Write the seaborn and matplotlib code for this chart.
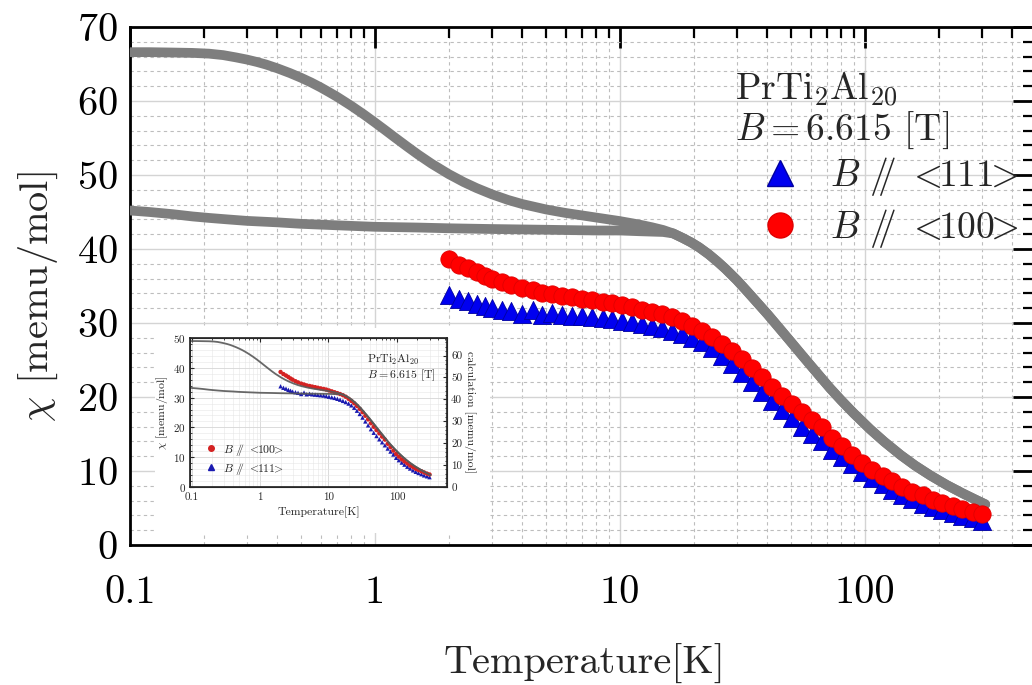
import numpy as np
import pandas as pd
import matplotlib
matplotlib.use("Agg")
import matplotlib.pyplot as plt
import seaborn as sns
from matplotlib.ticker import FixedLocator, FuncFormatter, LogLocator, MultipleLocator, NullFormatter
from matplotlib.lines import Line2D

# ---------------- data ----------------
T_data = [2.0, 2.2, 2.4, 2.6, 2.8, 3.0, 3.3, 3.6, 4.0, 4.4, 4.8, 5.3, 5.8, 6.4, 7.0,
          7.7, 8.5, 9.3, 10.2, 11.2, 12.3, 13.5, 14.8, 16.3, 17.9, 19.7, 21.6, 23.8, 26.1, 28.7,
          31.5, 34.6, 38.0, 41.8, 45.9, 50.4, 55.4, 60.9, 66.9, 73.5, 80.8, 88.8, 97.6, 107, 118,
          129, 142, 156, 172, 189, 207, 228, 250, 275, 300]
chi_100 = [38.6, 37.9, 37.4, 36.9, 36.4, 36.0, 35.5, 35.1, 34.7, 34.4, 34.1, 33.9, 33.7, 33.5, 33.3,
           33.1, 32.9, 32.7, 32.4, 32.1, 31.8, 31.5, 31.2, 30.8, 30.3, 29.6, 28.9, 28.1, 27.2, 26.2,
           25.1, 23.9, 22.7, 21.4, 20.2, 19.1, 18.0, 16.9, 15.9, 14.5, 13.4, 12.2, 11.1, 10.2, 9.3,
           8.6, 7.9, 7.2, 6.7, 6.1, 5.7, 5.3, 4.9, 4.5, 4.2]
chi_111 = [33.8, 33.3, 33.0, 32.6, 32.3, 32.0, 31.8, 31.6, 31.2, 31.7, 31.1, 31.3, 31.1, 31.0, 30.9,
           30.8, 30.7, 30.5, 30.3, 30.1, 29.9, 29.6, 29.3, 28.9, 28.5, 28.0, 27.4, 26.6, 25.6, 24.5,
           23.3, 22.0, 20.7, 19.4, 18.2, 17.1, 16.0, 15.0, 14.0, 12.9, 11.9, 10.9, 9.8, 9.0, 8.2,
           7.5, 6.8, 6.2, 5.6, 5.1, 4.7, 4.3, 3.9, 3.6, 3.3]

# calculation curves (low-T branches + shared high-T tail)
T_calc_a = [0.1, 0.12, 0.15, 0.18, 0.21, 0.24, 0.27, 0.3, 0.33, 0.36, 0.4, 0.45, 0.5, 0.55, 0.6,
            0.65, 0.7, 0.8, 0.9, 1.0, 1.1, 1.2, 1.35, 1.5, 1.7, 2.0, 2.3, 2.6, 3.0, 3.5,
            4.0, 5.0, 6.0, 7.0, 8.0, 10, 12, 13.5, 15]
chi_calc_a = [66.6, 66.6, 66.55, 66.5, 66.4, 66.2, 65.9, 65.6, 65.27, 64.92, 64.41, 63.77, 63.13, 62.49,
              61.84, 61.19, 60.57, 59.35, 58.19, 57.09, 56.07, 55.12, 53.86, 52.76, 51.54, 50.12,
              49.05, 48.23, 47.39, 46.62, 46.07, 45.34, 44.87, 44.54, 44.25, 43.77, 43.3, 42.94, 42.57]
T_calc_b = [0.1, 0.12, 0.15, 0.18, 0.21, 0.25, 0.3, 0.4, 0.5, 0.7, 1.0, 1.5, 2.0, 3.0, 5.0, 8.0,
            10, 12, 15]
chi_calc_b = [45.2, 45.0, 44.7, 44.4, 44.2, 44.0, 43.8, 43.6, 43.4, 43.2, 43.0, 42.9, 42.8, 42.7,
              42.6, 42.5, 42.5, 42.4, 42.3]
T_calc_hi = [16.5, 18, 19.5, 21, 23, 25, 27, 30, 33, 36, 40, 45, 50, 56, 63, 72, 80, 90, 105,
             120, 140, 160, 185, 216, 250, 280, 310]
chi_calc_hi = [42.1, 41.5, 40.9, 40.25, 39.3, 38.3, 37.3, 35.8, 34.3, 32.9, 31.2, 29.2, 27.4, 25.45,
               23.45, 21.2, 19.55, 17.8, 15.65, 13.95, 12.15, 10.75, 9.4, 8.1, 7.0, 6.2, 5.5]

x_ticks = [0.1, 1, 10, 100]
x_tick_labels = ["0.1", "1", "10", "100"]

compound = r"PrTi$_2$Al$_{20}$"
field_txt = r"$B = 6.615$ [T]"
lab_111 = r"$B\ /\!\!/\ <\!\!111\!\!>$"
lab_100 = r"$B\ /\!\!/\ <\!\!100\!\!>$"

# ---------------- style ----------------
sns.set_theme(style="white")
plt.rcParams["font.family"] = ["cmr10", "DejaVu Serif"]
plt.rcParams["mathtext.fontset"] = "cm"
plt.rcParams["axes.formatter.use_mathtext"] = True
plt.rcParams["axes.unicode_minus"] = False

GRAY = "#7e7e7e"
RED = "#ff0000"
BLUE = "#0000f0"

W, H = 1032, 685
fig = plt.figure(figsize=(W / 100, H / 100), dpi=100)
fig.patch.set_facecolor("white")


def fr(x0, y0, x1, y1):
    return [x0 / W, 1 - y1 / H, (x1 - x0) / W, (y1 - y0) / H]


df_data = pd.DataFrame({"T": T_data, "c100": chi_100, "c111": chi_111})
calc_up = pd.DataFrame({"T": T_calc_a + T_calc_hi, "chi": chi_calc_a + chi_calc_hi})
calc_lo = pd.DataFrame({"T": T_calc_b + T_calc_hi, "chi": chi_calc_b + chi_calc_hi})

# ---------------- main axes ----------------
ax = fig.add_axes(fr(130, 27, 1034, 545))
ax.set_facecolor("white")
for d in (calc_up, calc_lo):
    sns.lineplot(data=d, x="T", y="chi", ax=ax, color=GRAY, lw=7, sort=False,
                 estimator=None, solid_capstyle="round", solid_joinstyle="round", zorder=3)
sns.scatterplot(data=df_data, x="T", y="c111", ax=ax, marker="^", s=170, color=BLUE,
                edgecolor="#0000a0", linewidth=0.6, zorder=4)
sns.scatterplot(data=df_data, x="T", y="c100", ax=ax, marker="o", s=155, color=RED,
                edgecolor="#e00000", linewidth=0.6, zorder=5)

ax.set_xscale("log")
ax.set_xlim(0.1, 490)
ax.set_ylim(0, 70)
ax.xaxis.set_major_locator(FixedLocator(x_ticks))
ax.xaxis.set_major_formatter(FuncFormatter(lambda v, p: x_tick_labels[x_ticks.index(v)] if v in x_ticks else ""))
ax.xaxis.set_minor_locator(LogLocator(base=10, subs=np.arange(2, 10)))
ax.xaxis.set_minor_formatter(NullFormatter())
ax.yaxis.set_major_locator(MultipleLocator(10))
ax.yaxis.set_minor_locator(MultipleLocator(2))

ax.grid(which="major", color="#d4d4d4", lw=1.0, ls="-")
ax.grid(which="minor", color="#bdbdbd", lw=0.8, ls=(0, (3, 3)))
ax.tick_params(which="both", direction="in", top=True, right=True, colors="black")
ax.tick_params(which="major", length=15, width=2, labelsize=29)
ax.tick_params(axis="x", which="major", pad=22)
ax.tick_params(axis="y", which="major", pad=9)
ax.tick_params(which="minor", length=8, width=1.6)
for s in ax.spines.values():
    s.set_linewidth(2)
    s.set_color("black")

ax.set_xlabel("Temperature[K]", fontsize=29)
ax.set_ylabel(r"$\chi$ [memu/mol]", fontsize=29)
ax.xaxis.set_label_coords(0.503, -0.19)
ax.yaxis.set_label_coords(-0.077, 0.479)

ax.text(0.669, 0.859, compound, transform=ax.transAxes, fontsize=27, va="baseline", ha="left")
ax.text(0.669, 0.782, field_txt, transform=ax.transAxes, fontsize=27, va="baseline", ha="left")
handles = [Line2D([], [], ls="", marker="^", ms=19, color=BLUE, mec="#0000a0"),
           Line2D([], [], ls="", marker="o", ms=18, color=RED, mec="#e00000")]
ax.legend(handles, [lab_111, lab_100], loc="upper left", bbox_to_anchor=(0.698, 0.753),
          frameon=False, fontsize=27, handlelength=1.0, handletextpad=0.85,
          labelspacing=0.25, borderpad=0, borderaxespad=0)

# ---------------- inset ----------------
ax_box = fig.add_axes(fr(155, 328, 490, 533))
ax_box.set_facecolor("white")
ax_box.set_xticks([])
ax_box.set_yticks([])
for s in ax_box.spines.values():
    s.set_visible(False)

ax_in = fig.add_axes(fr(190, 338, 447, 487))
ax_in.set_facecolor("white")
sns.scatterplot(data=df_data, x="T", y="c111", ax=ax_in, marker="^", s=10, color="#1a1ab0",
                edgecolor="none", zorder=3)
sns.scatterplot(data=df_data, x="T", y="c100", ax=ax_in, marker="o", s=10, color="#d42222",
                edgecolor="none", zorder=4)
ax_in.set_xscale("log")
ax_in.set_xlim(0.095, 540)
ax_in.set_ylim(0, 50)
ax_in.xaxis.set_major_locator(FixedLocator(x_ticks))
ax_in.xaxis.set_major_formatter(FuncFormatter(lambda v, p: x_tick_labels[x_ticks.index(v)] if v in x_ticks else ""))
ax_in.xaxis.set_minor_locator(LogLocator(base=10, subs=np.arange(2, 10)))
ax_in.xaxis.set_minor_formatter(NullFormatter())
ax_in.yaxis.set_major_locator(MultipleLocator(10))
ax_in.yaxis.set_minor_locator(MultipleLocator(2))
ax_in.grid(which="major", color="#d6d6d6", lw=0.6)
ax_in.grid(which="minor", color="#e6e6e6", lw=0.4)
ax_in.tick_params(which="both", direction="in", top=True, right=False, labelsize=8)
ax_in.tick_params(axis="x", which="major", pad=4)
ax_in.tick_params(axis="y", which="major", pad=3)
ax_in.tick_params(which="major", length=3, width=0.8)
ax_in.tick_params(which="minor", length=1.6, width=0.6)
for s in ax_in.spines.values():
    s.set_linewidth(0.8)
    s.set_color("#333333")
ax_in.set_xlabel("Temperature[K]", fontsize=8.5, labelpad=3)
ax_in.set_ylabel(r"$\chi$ [memu/mol]", fontsize=8.5, labelpad=2)

ax_in2 = ax_in.twinx()
for d in (calc_up, calc_lo):
    sns.lineplot(data=d, x="T", y="chi", ax=ax_in2, color="#585858", lw=1.3, sort=False,
                 estimator=None, alpha=0.9)
ax_in2.set_ylim(0, 68)
ax_in2.yaxis.set_major_locator(MultipleLocator(10))
ax_in2.yaxis.set_minor_locator(MultipleLocator(2))
ax_in2.tick_params(which="both", direction="in", labelsize=8, pad=3)
ax_in2.tick_params(which="major", length=3, width=0.8)
ax_in2.tick_params(which="minor", length=1.6, width=0.6)
ax_in2.yaxis.set_major_formatter(FuncFormatter(lambda v, p: f"{v:g}" if v <= 60 else ""))
ax_in2.set_ylabel("calculation [memu/mol]", fontsize=8.5, rotation=270, labelpad=10)
ax_in2.set_xlabel("")

ax_in.text(0.69, 0.835, compound, transform=ax_in.transAxes, fontsize=8.5, va="baseline")
ax_in.text(0.69, 0.73, field_txt, transform=ax_in.transAxes, fontsize=8.5, va="baseline")
h_in = [Line2D([], [], ls="", marker="o", ms=4, color="#d42222"),
        Line2D([], [], ls="", marker="^", ms=4, color="#1a1ab0")]
ax_in.legend(h_in, [lab_100, lab_111], loc="lower left", bbox_to_anchor=(0.06, 0.07),
             frameon=False, fontsize=8.5, handlelength=1.0, handletextpad=0.5,
             labelspacing=0.25, borderpad=0, borderaxespad=0)

fig.savefig("out.png", dpi=100, facecolor="white")
